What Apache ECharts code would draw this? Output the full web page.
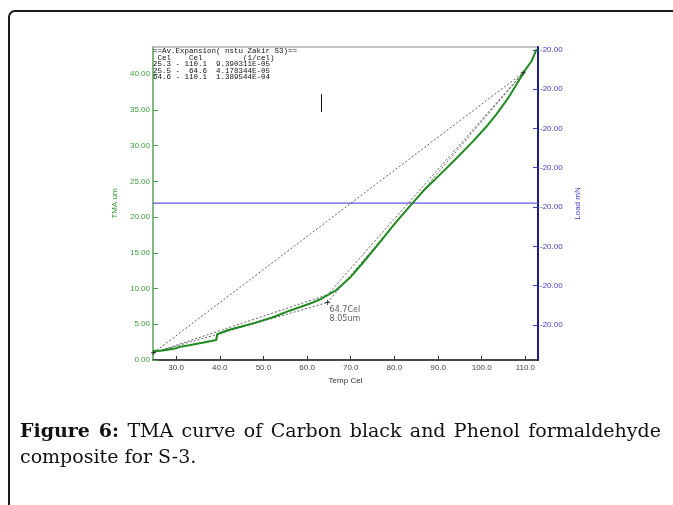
<!DOCTYPE html>
<html>
<head>
<meta charset="utf-8">
<script src="https://cdn.jsdelivr.net/npm/echarts@6/dist/echarts.min.js"></script>
<style>
  html, body { margin: 0; padding: 0; background: #fff; }
  body { width: 673px; height: 505px; position: relative; overflow: hidden; }
  .frame {
    position: absolute; left: 8px; top: 10px; width: 720px; height: 560px;
    border-top: 2px solid #1a1a1a; border-left: 2px solid #1a1a1a;
    border-top-left-radius: 7px;
  }
  #chart { position: absolute; left: 0; top: 0; width: 673px; height: 505px; }
  .caption {
    position: absolute; left: 20px; width: 641px;
    font-family: "DejaVu Serif", "Liberation Serif", serif; font-size: 19px; color: #111;
    line-height: 22px;
  }
  .cap1 { top: 419px; text-align: justify; text-align-last: justify; }
  .cap2 { top: 445px; }
  .caption b { font-weight: bold; }
</style>
</head>
<body>
<div class="frame"></div>
<div id="chart"></div>
<div class="caption cap1"><b>Figure 6:</b> TMA curve of Carbon black and Phenol formaldehyde</div>
<div class="caption cap2">composite for S-3.</div>
<script>
// TMA trace (green), temperature in Cel, expansion in um
const tmaTemp = [24.8, 25.3, 26.5, 28, 30, 30.6, 33, 36, 39.2, 39.4, 39.7, 42, 45, 48, 52, 56,
  60.7, 63, 64.5, 66.5, 69.8, 72.5, 75.9, 80, 83.5, 87, 91.2, 94.5, 98, 101, 103.4, 106, 108, 110, 111.4, 112.6];
const tmaLen = [1.1, 1.3, 1.3, 1.45, 1.65, 1.8, 2.05, 2.4, 2.8, 3.6, 3.85, 4.2, 4.7, 5.2, 5.95, 6.9,
  7.9, 8.5, 9.0, 9.7, 11.5, 13.4, 15.9, 19.0, 21.5, 23.9, 26.4, 28.4, 30.6, 32.6, 34.4, 36.6, 38.6, 40.6, 41.8, 43.5];

// load channel (blue), constant
const loadTemp = [24.7, 112.9];
const loadMN = [-19.9999, -19.9999];

// fitted expansion segments (dotted)
const fitFull = [[24.8, 1.0], [109.5, 40.2]];
const fitLowUpper = [[24.8, 1.0], [64.5, 9.1]];
const fitLow = [[25.2, 1.1], [64.7, 8.05]];
const fitHigh = [[64.7, 8.05], [109.5, 40.2]];
const fitHighUpper = [[64.5, 9.0], [109.5, 40.2]];

// cursor marks
const cursorLine = [[63.3, 34.7], [63.3, 37.2]];
const crossPts = [[24.8, 1.0], [109.5, 40.2], [64.7, 8.05]];
const markTemp = 64.7;
const markLen = 8.05;

// tick labels
const tempTicks = [30, 40, 50, 60, 70, 80, 90, 100, 110];
const tmaTicks = [0, 5, 10, 15, 20, 25, 30, 35, 40];
const loadTicks = [-20.003, -20.002, -20.001, -20.000, -19.999, -19.998, -19.997, -19.996];

const headerLines = [
  '==Av.Expansion( nstu Zakir S3)==',
  ' Cel    Cel         (1/cel)',
  '25.3 - 110.1  9.390311E-05',
  '25.5 -  64.6  4.178344E-05',
  '64.6 - 110.1  1.389544E-04',
];

const zip = (xs, ys) => xs.map((x, i) => [x, ys[i]]);
const crossSymbol = 'path://M4,0h2v4h4v2h-4v4h-2v-4h-4v-2h4z';
const fitStyle = { color: '#333', width: 0.8, type: [2, 2] };

const fitSeries = [fitFull, fitLowUpper, fitLow, fitHigh, fitHighUpper].map((seg) => ({
  type: 'line',
  data: seg,
  symbol: 'none',
  lineStyle: fitStyle,
  z: 3,
}));

const chart = echarts.init(document.getElementById('chart'), null, { renderer: 'canvas' });
chart.setOption({
  animation: false,
  grid: {
    left: 153, right: 135, top: 47, bottom: 145,
    show: true, borderColor: '#888', borderWidth: 1,
    containLabel: false,
  },
  xAxis: {
    type: 'value',
    min: 24.7,
    max: 112.9,
    name: 'Temp Cel',
    nameLocation: 'middle',
    nameGap: 15,
    nameTextStyle: { fontSize: 8, color: '#333', fontFamily: 'Liberation Sans' },
    axisLine: { onZero: false, lineStyle: { color: '#222', width: 1.5 } },
    axisTick: { inside: true, length: 4, customValues: tempTicks, lineStyle: { color: '#333' } },
    axisLabel: {
      customValues: tempTicks, formatter: (v) => v.toFixed(1),
      fontSize: 8, color: '#444', margin: 4, fontFamily: 'Liberation Sans',
    },
    splitLine: { show: false },
  },
  yAxis: [
    {
      type: 'value',
      position: 'left',
      min: 0,
      max: 43.8,
      name: 'TMA um',
      nameLocation: 'middle',
      nameRotate: 90,
      nameGap: 27,
      nameTextStyle: { fontSize: 8, color: '#3a9a3a', fontFamily: 'Liberation Sans' },
      axisLine: { show: true, onZero: false, lineStyle: { color: '#6cb86c', width: 1.5 } },
      axisTick: { show: true, inside: true, length: 5, customValues: tmaTicks, lineStyle: { color: '#4aa04a' } },
      axisLabel: {
        customValues: tmaTicks, formatter: (v) => v.toFixed(2),
        fontSize: 8, color: '#3a9a3a', margin: 3, fontFamily: 'Liberation Sans',
      },
      splitLine: { show: false },
    },
    {
      type: 'value',
      position: 'right',
      min: -20.00389,
      max: -19.99593,
      name: 'Load mN',
      nameLocation: 'middle',
      nameRotate: 90,
      nameGap: 30,
      nameTextStyle: { fontSize: 8, color: '#3c3cc0', fontFamily: 'Liberation Sans' },
      axisLine: { show: true, onZero: false, lineStyle: { color: '#1c1c8c', width: 2 } },
      axisTick: { show: true, inside: true, length: 5, customValues: loadTicks, lineStyle: { color: '#3c3cc0' } },
      axisLabel: {
        customValues: loadTicks, formatter: (v) => v.toFixed(2),
        fontSize: 8, color: '#3c3cc0', margin: 2, fontFamily: 'Liberation Sans',
      },
      splitLine: { show: false },
    },
  ],
  graphic: [
    {
      type: 'text',
      left: 153,
      top: 47,
      z: 10,
      style: {
        text: headerLines.join('\n'),
        font: '7.5px "Liberation Mono"',
        lineHeight: 6.6,
        fill: '#111',
      },
    },
  ],
  series: [
    {
      type: 'line',
      yAxisIndex: 1,
      data: zip(loadTemp, loadMN),
      symbol: 'none',
      lineStyle: { color: '#5a5ae0', width: 1.2 },
      z: 2,
    },
    ...fitSeries,
    {
      type: 'line',
      data: zip(tmaTemp, tmaLen),
      symbol: 'none',
      lineStyle: { color: '#1f8a1f', width: 2 },
      z: 4,
    },
    {
      type: 'line',
      data: cursorLine,
      symbol: 'none',
      lineStyle: { color: '#111', width: 1 },
      z: 5,
    },
    {
      type: 'scatter',
      data: crossPts,
      symbol: crossSymbol,
      symbolSize: 5,
      itemStyle: { color: '#111' },
      z: 6,
    },
    {
      type: 'scatter',
      data: [[markTemp, markLen]],
      symbolSize: 0,
      label: {
        show: true,
        position: [2, 3],
        align: 'left',
        verticalAlign: 'top',
        formatter: `${markTemp.toFixed(1)}Cel\n${markLen.toFixed(2)}um`,
        fontSize: 8,
        lineHeight: 9,
        color: '#333',
        fontFamily: 'DejaVu Sans',
      },
      z: 6,
    },
  ],
});
</script>
</body>
</html>
